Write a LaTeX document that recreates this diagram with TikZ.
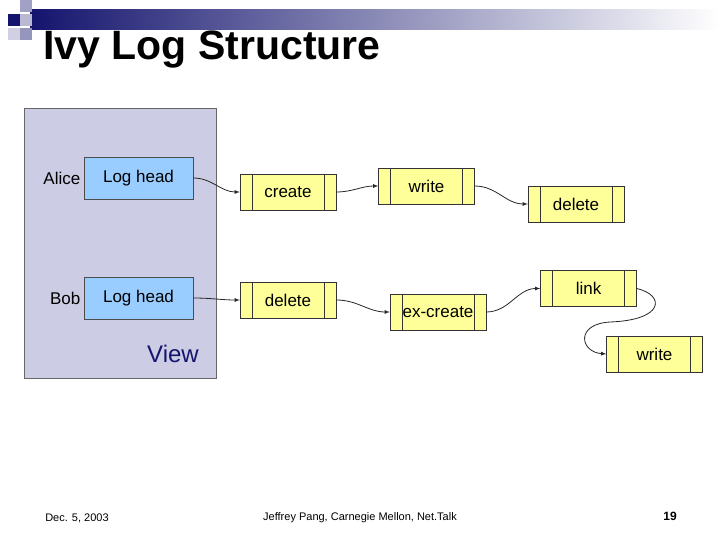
\documentclass[tikz,border=0pt]{standalone}
\usepackage{fontspec}
\setmainfont{Liberation Sans}
\definecolor{viewfill}{RGB}{204,204,228}
\definecolor{headfill}{RGB}{153,204,255}
\definecolor{recfill}{RGB}{255,255,153}
\definecolor{navy}{RGB}{20,20,110}
\tikzset{
  head/.style={draw=black!70, fill=headfill, minimum width=109pt, minimum height=42pt, font=\fontsize{17}{19}\selectfont},
  rec/.style={draw=black!80, fill=recfill, minimum width=96pt, minimum height=36pt, font=\fontsize{17}{19}\selectfont,
    path picture={
      \draw[black!80] ([xshift=12pt]path picture bounding box.north west) -- ([xshift=12pt]path picture bounding box.south west);
      \draw[black!80] ([xshift=-12pt]path picture bounding box.north east) -- ([xshift=-12pt]path picture bounding box.south east);
    }},
  link/.style={->, >=latex, thick, black!85},
  who/.style={font=\fontsize{17}{19}\selectfont, anchor=east},
  foot/.style={font=\fontsize{11}{13}\selectfont}
}
\begin{document}
\begin{tikzpicture}[x=1pt, y=-1pt]
   % Page frame
   \useasboundingbox (0,0) rectangle (720,540);
   % Header bar
   \shade[left color=navy, right color=white] (30,10) rectangle (720,30);
   \fill[navy] (8,14) rectangle (20,26);
   \fill[navy!40] (20,0) rectangle (32,12);
   \fill[navy!30] (20,14) rectangle (32,26);
   \fill[navy!20] (8,28) rectangle (20,40);
   \fill[navy!45] (20,28) rectangle (32,40);
   \node[anchor=west, font=\fontsize{41}{45}\bfseries\selectfont] (title) at (40,50) {Ivy Log Structure};
   % View panel
   \draw[black!60, fill=viewfill] (24,108) rectangle (216,378);
   \node[font=\fontsize{24}{26}\selectfont, text=navy] (view) at (173,354) {View};
   \node[head] (ahead) at (138.5,178) {Log head};
   \node[head] (bhead) at (138.5,298) {Log head};
   \node[who] (alice) at (ahead.west) {Alice};
   \node[who] (bob) at (bhead.west) {Bob};
   % Log records
   \node[rec] (create) at (288,192) {create};
   \node[rec] (write) at (426.5,186) {write};
   \node[rec] (adel) at (576,204) {delete};
   \node[rec] (bdel) at (288,300) {delete};
   \node[rec] (excr) at (438,312) {ex-create};
   \node[rec] (blink) at (588.5,288.5) {link};
   \node[rec] (bwrite) at (654.5,354) {write};
   % Connectors
   \draw[link] (ahead.east) to[out=0, in=180] (create.west);
   \draw[link] (create.east) to[out=0, in=180] (write.west);
   \draw[link] (write.east) to[out=0, in=180] (adel.west);
   \draw[link] (bhead.east) to[out=0, in=180] (bdel.west);
   \draw[link] (bdel.east) to[out=0, in=180] (excr.west);
   \draw[link] (excr.east) to[out=0, in=180] (blink.west);
   \draw[link] (blink.east) .. controls (665,295) and (665,320) .. (610,322)
     .. controls (575,324) and (580,352) .. (bwrite.west);
   % Footer
   \node[foot] (date) at (77,518) {Dec. 5, 2003};
   \node[foot] (auth) at (360,518) {Jeffrey Pang, Carnegie Mellon, Net.Talk};
   \node[foot, font=\fontsize{12}{14}\bfseries\selectfont] (page) at (670,516) {19};
\end{tikzpicture}
\end{document}
